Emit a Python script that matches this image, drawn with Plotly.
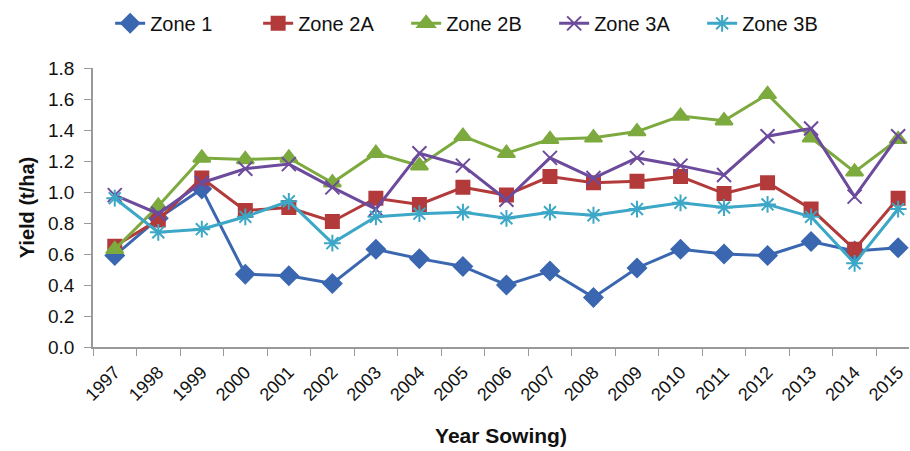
import plotly.graph_objects as go

years = [str(y) for y in range(1997, 2016)]
zone1 = [0.59, 0.83, 1.02, 0.47, 0.46, 0.41, 0.63, 0.57, 0.52, 0.40, 0.49, 0.32, 0.51, 0.63, 0.60, 0.59, 0.68, 0.62, 0.64]
zone2a = [0.65, 0.82, 1.09, 0.88, 0.90, 0.81, 0.96, 0.92, 1.03, 0.98, 1.10, 1.06, 1.07, 1.10, 0.99, 1.06, 0.89, 0.63, 0.96]
zone2b = [0.63, 0.91, 1.22, 1.21, 1.22, 1.06, 1.25, 1.17, 1.36, 1.25, 1.34, 1.35, 1.39, 1.49, 1.46, 1.63, 1.35, 1.13, 1.34]
zone3a = [0.98, 0.86, 1.06, 1.15, 1.18, 1.03, 0.89, 1.25, 1.17, 0.95, 1.22, 1.09, 1.22, 1.17, 1.11, 1.36, 1.41, 0.97, 1.36]
zone3b = [0.96, 0.74, 0.76, 0.84, 0.94, 0.67, 0.84, 0.86, 0.87, 0.83, 0.87, 0.85, 0.89, 0.93, 0.90, 0.92, 0.84, 0.54, 0.89]

series = [
    ("Zone 1", zone1, "#3A67B0", "diamond", 14),
    ("Zone 2A", zone2a, "#B23A3A", "square", 13),
    ("Zone 2B", zone2b, "#7DAA3E", "triangle-up", 15),
    ("Zone 3A", zone3a, "#6C4A9C", "x-thin-open", 14),
    ("Zone 3B", zone3b, "#3CA7C6", "asterisk-open", 14),
]

fig = go.Figure()
for name, vals, color, sym, size in series:
    fig.add_trace(go.Scatter(
        x=years, y=vals, name=name, mode="lines+markers",
        line=dict(color=color, width=3),
        marker=dict(symbol=sym, size=size, color=color,
                    line=dict(color=color, width=2)),
    ))

font_family = "Liberation Sans, Arial"
fig.update_layout(
    width=910, height=451,
    margin=dict(l=93, r=1, t=68, b=104, autoexpand=False),
    paper_bgcolor="white", plot_bgcolor="white",
    font=dict(family=font_family, size=18, color="#111111"),
    showlegend=True,
    legend=dict(orientation="h", x=0.021, xanchor="left", y=1.16, yanchor="middle",
                font=dict(size=20), itemwidth=30, traceorder="normal",
                entrywidth=103, entrywidthmode="pixels"),
    xaxis=dict(
        type="category", tickson="boundaries", ticks="outside", ticklen=7,
        range=[-0.5, 18.25], automargin=False,
        tickcolor="#999999", showline=True, linecolor="#999999", linewidth=1.5,
        tickangle=-45, tickfont=dict(size=18), showgrid=False,
        ticklabelstandoff=6,
        title=dict(text="<b>Year Sowing)</b>", font=dict(size=21), standoff=24),
    ),
    yaxis=dict(
        range=[0, 1.8], dtick=0.2, tickformat=".1f", ticks="outside", ticklen=7,
        automargin=False,
        tickcolor="#999999", showline=True, linecolor="#999999", linewidth=1.5,
        showgrid=False, zeroline=False, tickfont=dict(size=19),
        ticklabelstandoff=6,
        title=dict(text="<b>Yield (t/ha)</b>", font=dict(size=20), standoff=8),
    ),
)

fig.write_html("out.html", config={"displayModeBar": False},
               post_script="document.body.style.margin='0';")
